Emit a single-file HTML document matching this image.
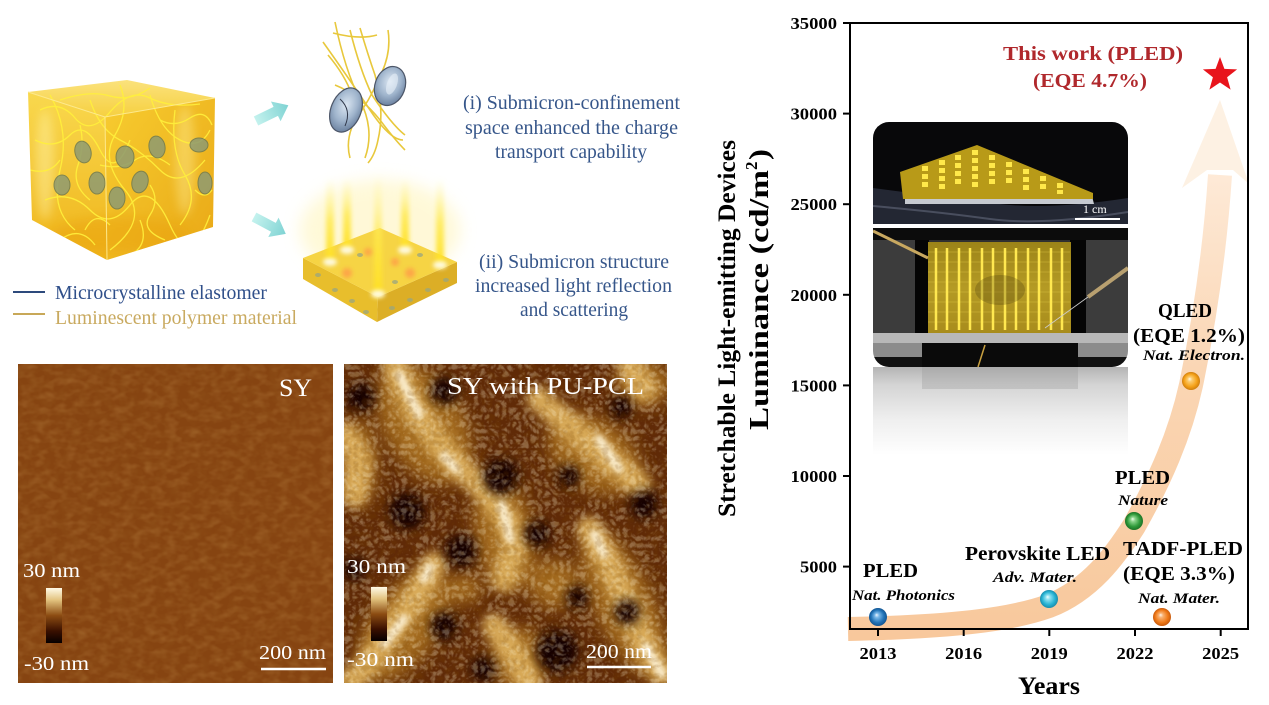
<!DOCTYPE html>
<html><head><meta charset="utf-8"><style>
html,body{margin:0;padding:0;background:#fff;}
svg{display:block}
text{font-family:"Liberation Serif","DejaVu Serif",serif;}
</style></head><body>
<svg width="1269" height="705" viewBox="0 0 1269 705" xmlns="http://www.w3.org/2000/svg">
<defs>
 <linearGradient id="gCubeL" x1="0" y1="0" x2="0" y2="1"><stop offset="0" stop-color="#f9d84e"/><stop offset="1" stop-color="#efb41a"/></linearGradient>
 <linearGradient id="gCubeR" x1="0" y1="0" x2="1" y2="1"><stop offset="0" stop-color="#f7cc30"/><stop offset="1" stop-color="#e9a816"/></linearGradient>
 <linearGradient id="gCubeT" x1="0" y1="0" x2="0" y2="1"><stop offset="0" stop-color="#fbe27c"/><stop offset="1" stop-color="#f6d040"/></linearGradient>
 <clipPath id="cubeClip"><polygon points="28,92 127,80 215,98 213,227 107,260 32,220"/></clipPath>
 <linearGradient id="gArrow" x1="0" y1="0" x2="1" y2="0"><stop offset="0" stop-color="#c4f2ee"/><stop offset="1" stop-color="#7fd3d3"/></linearGradient>
 <radialGradient id="gEll" cx="0.45" cy="0.4" r="0.6"><stop offset="0" stop-color="#dbe6f2"/><stop offset="0.6" stop-color="#9fb4cc"/><stop offset="1" stop-color="#6e84a2"/></radialGradient>
 <linearGradient id="gBeam" x1="0" y1="0" x2="0" y2="1"><stop offset="0" stop-color="#fff6a0" stop-opacity="0"/><stop offset="0.5" stop-color="#ffe94a" stop-opacity="0.8"/><stop offset="1" stop-color="#ffe020" stop-opacity="1"/></linearGradient>
 <filter id="b2" x="-50%" y="-50%" width="200%" height="200%"><feGaussianBlur stdDeviation="2"/></filter>
 <filter id="b3" x="-50%" y="-50%" width="200%" height="200%"><feGaussianBlur stdDeviation="3"/></filter>
 <filter id="b5" x="-50%" y="-50%" width="200%" height="200%"><feGaussianBlur stdDeviation="5"/></filter>
 <filter id="b8" x="-50%" y="-50%" width="200%" height="200%"><feGaussianBlur stdDeviation="8"/></filter>
 <filter id="noiseL" x="0" y="0" width="1" height="1"><feTurbulence type="fractalNoise" baseFrequency="0.09 0.14" numOctaves="2" seed="2"/><feColorMatrix type="matrix" values="0 0 0 0 0.66  0 0 0 0 0.37  0 0 0 0 0.11  1.6 0 0 0 -0.65"/></filter>
 <filter id="noiseL2" x="0" y="0" width="1" height="1"><feTurbulence type="fractalNoise" baseFrequency="0.1" numOctaves="2" seed="9"/><feColorMatrix type="matrix" values="0 0 0 0 0.38  0 0 0 0 0.17  0 0 0 0 0.03  1.6 0 0 0 -0.65"/></filter>
 <filter id="noiseR" x="0" y="0" width="1" height="1"><feTurbulence type="turbulence" baseFrequency="0.14" numOctaves="2" seed="5"/><feColorMatrix type="matrix" values="0 0 0 0 0.97  0 0 0 0 0.86  0 0 0 0 0.6  3 0 0 0 -0.55"/></filter>
 <filter id="noiseR2" x="0" y="0" width="1" height="1"><feTurbulence type="turbulence" baseFrequency="0.12" numOctaves="2" seed="11"/><feColorMatrix type="matrix" values="0 0 0 0 0.2  0 0 0 0 0.06  0 0 0 0 0.0  3 0 0 0 -0.5"/></filter>
 <linearGradient id="gCbar" x1="0" y1="0" x2="0" y2="1"><stop offset="0" stop-color="#fffbe8"/><stop offset="0.22" stop-color="#e2c27e"/><stop offset="0.5" stop-color="#8c4c12"/><stop offset="0.78" stop-color="#3a1000"/><stop offset="1" stop-color="#060000"/></linearGradient>
 <clipPath id="clipR"><rect x="0" y="0" width="323" height="319"/></clipPath>
 <linearGradient id="gBand" gradientUnits="userSpaceOnUse" x1="0" y1="640" x2="0" y2="100"><stop offset="0" stop-color="#f8c89c"/><stop offset="0.5" stop-color="#fad6b4"/><stop offset="1" stop-color="#fff1e4"/></linearGradient>
 <radialGradient id="ballBlue" cx="0.5" cy="0.5" r="0.5" fx="0.42" fy="0.38"><stop offset="0" stop-color="#eef6ff"/><stop offset="0.25" stop-color="#7ab8e8"/><stop offset="0.7" stop-color="#2274b8"/><stop offset="1" stop-color="#125592"/></radialGradient>
 <radialGradient id="ballCyan" cx="0.5" cy="0.5" r="0.5" fx="0.42" fy="0.38"><stop offset="0" stop-color="#f0ffff"/><stop offset="0.25" stop-color="#8ee0f0"/><stop offset="0.7" stop-color="#28b4d4"/><stop offset="1" stop-color="#1a8cac"/></radialGradient>
 <radialGradient id="ballGreen" cx="0.5" cy="0.5" r="0.5" fx="0.42" fy="0.38"><stop offset="0" stop-color="#f0fff0"/><stop offset="0.25" stop-color="#8cd48c"/><stop offset="0.7" stop-color="#2f9a3a"/><stop offset="1" stop-color="#1c7226"/></radialGradient>
 <radialGradient id="ballOrange" cx="0.5" cy="0.5" r="0.5" fx="0.42" fy="0.38"><stop offset="0" stop-color="#fff4e8"/><stop offset="0.25" stop-color="#f8b070"/><stop offset="0.7" stop-color="#f07a18"/><stop offset="1" stop-color="#c85a0c"/></radialGradient>
 <radialGradient id="ballAmber" cx="0.5" cy="0.5" r="0.5" fx="0.42" fy="0.38"><stop offset="0" stop-color="#fff8e8"/><stop offset="0.25" stop-color="#fccc70"/><stop offset="0.7" stop-color="#f5a21a"/><stop offset="1" stop-color="#d07e0c"/></radialGradient>
 <clipPath id="photoClip"><rect x="873" y="122" width="255" height="245" rx="16" ry="16"/></clipPath>
 <linearGradient id="gPanel" x1="0" y1="0" x2="0" y2="1"><stop offset="0" stop-color="#9c8418"/><stop offset="0.5" stop-color="#b49a24"/><stop offset="1" stop-color="#a88c1c"/></linearGradient>
 <linearGradient id="gRefl" x1="0" y1="0" x2="0" y2="1"><stop offset="0" stop-color="#b4b4b4"/><stop offset="0.2" stop-color="#d4d4d4"/><stop offset="0.6" stop-color="#efefef"/><stop offset="1" stop-color="#ffffff"/></linearGradient>
</defs>

<rect x="0" y="0" width="1269" height="705" fill="#fff"/>

<!-- ===== Cube ===== -->
<g>
 <polygon points="28,92 105,117 107,260 32,220" fill="url(#gCubeL)"/>
 <polygon points="105,117 215,98 213,227 107,260" fill="url(#gCubeR)"/>
 <polygon points="28,92 127,80 215,98 105,117" fill="url(#gCubeT)"/>
 <g clip-path="url(#cubeClip)">
  <ellipse cx="45" cy="165" rx="9" ry="55" fill="#fff6b0" opacity="0.45" filter="url(#b5)"/>
  <ellipse cx="185" cy="160" rx="10" ry="55" fill="#fff3a0" opacity="0.4" filter="url(#b5)"/>
  <ellipse cx="120" cy="235" rx="70" ry="18" fill="#e9a010" opacity="0.45" filter="url(#b5)"/>
  <g fill="none" stroke="#fff03c" stroke-width="1.3" opacity="0.9">
   <path d="M40,110 Q60,100 75,118 T110,112 T150,98 T200,104"/>
   <path d="M35,140 Q55,150 70,135 T100,150 T130,140"/>
   <path d="M50,95 Q70,130 60,170 T75,230"/>
   <path d="M90,100 Q100,130 120,140 T160,170 T205,160"/>
   <path d="M120,85 Q130,110 115,135 T125,190 T110,250"/>
   <path d="M150,95 Q160,130 180,140 T210,130"/>
   <path d="M45,200 Q70,190 90,210 T130,205 T170,225 T210,215"/>
   <path d="M60,240 Q80,225 95,245"/>
   <path d="M140,220 Q150,245 130,255"/>
   <path d="M175,110 Q170,150 185,175 T180,225"/>
   <path d="M100,165 Q120,170 135,160 T170,165"/>
   <path d="M30,170 Q50,175 60,160"/>
   <path d="M195,190 Q205,200 212,190"/>
   <path d="M80,125 Q85,145 78,165 T90,200"/>
   <path d="M150,185 Q160,200 150,215 T165,240"/>
   <path d="M110,225 Q95,210 85,230"/>
   <path d="M60,100 Q90,90 110,96 T150,88"/>
   <path d="M160,120 Q175,128 190,118 T212,125"/>
  </g>
  <g fill="#8e9a72" stroke="#6c7852" stroke-width="1" opacity="0.85">
   <ellipse cx="83" cy="152" rx="8" ry="11" transform="rotate(-15 83 152)"/>
   <ellipse cx="125" cy="157" rx="9" ry="11"/>
   <ellipse cx="157" cy="147" rx="8" ry="11" transform="rotate(-10 157 147)"/>
   <ellipse cx="199" cy="145" rx="9" ry="7"/>
   <ellipse cx="62" cy="185" rx="8" ry="10"/>
   <ellipse cx="97" cy="183" rx="8" ry="11"/>
   <ellipse cx="140" cy="182" rx="8" ry="11" transform="rotate(15 140 182)"/>
   <ellipse cx="117" cy="198" rx="8" ry="11"/>
   <ellipse cx="205" cy="183" rx="7" ry="11"/>
  </g>
 </g>
 <polyline points="28,92 105,117 215,98" fill="none" stroke="#fde98c" stroke-width="1"/>
 <line x1="105" y1="117" x2="107" y2="260" stroke="#fde98c" stroke-width="1"/>
</g>

<!-- legend -->
<line x1="13" y1="292" x2="45" y2="292" stroke="#2d4a7c" stroke-width="2"/>
<text x="55" y="299" font-size="19.5" fill="#2f4f8a" textLength="212" lengthAdjust="spacingAndGlyphs">Microcrystalline elastomer</text>
<line x1="13" y1="314" x2="45" y2="314" stroke="#c8a858" stroke-width="2"/>
<text x="55" y="324" font-size="19.5" fill="#c9aa60" textLength="242" lengthAdjust="spacingAndGlyphs">Luminescent polymer material</text>

<!-- cyan arrows -->
<g transform="translate(256,121) rotate(-26)"><path d="M0,-5 L22,-5 L22,-11 L36,0 L22,11 L22,5 L0,5 Z" fill="url(#gArrow)"/></g>
<g transform="translate(254,217) rotate(28)"><path d="M0,-5 L22,-5 L22,-11 L36,0 L22,11 L22,5 L0,5 Z" fill="url(#gArrow)"/></g>

<!-- fibers + ellipsoids -->
<g fill="none" stroke="#e8c83c" stroke-width="1.6">
 <path d="M323,42 Q350,80 370,110 T403,140"/>
 <path d="M335,22 Q345,70 360,100 Q375,130 365,158"/>
 <path d="M350,30 Q360,70 372,95 Q392,125 405,135"/>
 <path d="M360,28 Q368,55 375,75 Q385,110 378,140 Q375,155 368,163"/>
 <path d="M333,33 Q360,40 377,35"/>
 <path d="M388,30 Q392,55 378,80 Q370,100 355,120 Q345,140 350,158"/>
 <path d="M335,85 Q360,95 380,120 Q395,140 405,150"/>
 <path d="M328,55 Q345,75 352,95"/>
</g>
<ellipse cx="346" cy="110" rx="15" ry="23" transform="rotate(22 346 110)" fill="url(#gEll)" stroke="#4c5668" stroke-width="1.2"/>
<ellipse cx="390" cy="86" rx="15" ry="20" transform="rotate(20 390 86)" fill="url(#gEll)" stroke="#4c5668" stroke-width="1.2"/>
<ellipse cx="392" cy="84" rx="5" ry="11" transform="rotate(20 392 84)" fill="#e8f0f8" opacity="0.6"/>
<path d="M340,99 Q352,110 345,126" stroke="#30384a" stroke-width="1" fill="none"/>

<!-- glowing slab -->
<ellipse cx="380" cy="230" rx="80" ry="50" fill="#fff4b8" opacity="0.55" filter="url(#b8)"/>
<polygon points="303,258 378,297 377,322 303,279" fill="#e8be2c"/>
<polygon points="378,297 457,262 457,283 377,322" fill="#dcae26"/>
<polygon points="303,258 380,228 457,262 378,297" fill="#f6d444"/>
<g fill="#9aa680" opacity="0.75">
 <ellipse cx="318" cy="275" rx="3" ry="2"/><ellipse cx="335" cy="290" rx="3" ry="2"/><ellipse cx="352" cy="301" rx="3" ry="2"/><ellipse cx="366" cy="312" rx="3" ry="2"/>
 <ellipse cx="392" cy="308" rx="3" ry="2"/><ellipse cx="410" cy="300" rx="3" ry="2"/><ellipse cx="428" cy="290" rx="3" ry="2"/><ellipse cx="446" cy="280" rx="3" ry="2"/>
 <ellipse cx="360" cy="255" rx="3" ry="2"/><ellipse cx="420" cy="255" rx="3" ry="2"/><ellipse cx="395" cy="282" rx="3" ry="2"/>
</g>
<g filter="url(#b2)">
 <rect x="326" y="178" width="8" height="85" fill="url(#gBeam)"/>
 <rect x="343" y="178" width="8" height="72" fill="url(#gBeam)"/>
 <rect x="374" y="175" width="8" height="122" fill="url(#gBeam)"/>
 <rect x="401" y="178" width="8" height="72" fill="url(#gBeam)"/>
 <rect x="436" y="178" width="8" height="89" fill="url(#gBeam)"/>
</g>
<g fill="#ffffff" opacity="0.85" filter="url(#b2)">
 <ellipse cx="330" cy="262" rx="7" ry="4"/><ellipse cx="347" cy="250" rx="7" ry="4"/><ellipse cx="378" cy="294" rx="7" ry="4"/><ellipse cx="405" cy="250" rx="7" ry="4"/><ellipse cx="440" cy="265" rx="7" ry="4"/>
</g>
<g fill="#ff9a48" opacity="0.8" filter="url(#b2)">
 <circle cx="347" cy="273" r="5"/><circle cx="410" cy="273" r="5"/><circle cx="368" cy="252" r="4"/><circle cx="395" cy="262" r="4"/>
</g>

<!-- blue descriptive text -->
<g font-size="20" fill="#36568a">
 <text x="463" y="109" textLength="217" lengthAdjust="spacingAndGlyphs">(i) Submicron-confinement</text>
 <text x="465" y="134" textLength="213" lengthAdjust="spacingAndGlyphs">space enhanced the charge</text>
 <text x="495" y="158" textLength="152" lengthAdjust="spacingAndGlyphs">transport capability</text>
 <text x="479" y="268" textLength="190" lengthAdjust="spacingAndGlyphs">(ii) Submicron structure</text>
 <text x="475" y="292" textLength="197" lengthAdjust="spacingAndGlyphs">increased light reflection</text>
 <text x="520" y="316" textLength="108" lengthAdjust="spacingAndGlyphs">and scattering</text>
</g>

<!-- ===== Left AFM ===== -->
<rect x="18" y="364" width="315" height="319" fill="#864411"/>
<rect x="18" y="364" width="315" height="319" filter="url(#noiseL)" opacity="0.3"/>
<rect x="18" y="364" width="315" height="319" filter="url(#noiseL2)" opacity="0.25"/>
<text x="279" y="396" font-size="25" fill="#fff" textLength="33" lengthAdjust="spacingAndGlyphs">SY</text>
<text x="23" y="577" font-size="20" fill="#fff" textLength="57" lengthAdjust="spacingAndGlyphs">30 nm</text>
<rect x="46" y="588" width="16" height="55" fill="url(#gCbar)"/>
<text x="24" y="670" font-size="20" fill="#fff" textLength="65" lengthAdjust="spacingAndGlyphs">-30 nm</text>
<text x="259" y="659" font-size="20" fill="#fff" textLength="67" lengthAdjust="spacingAndGlyphs">200 nm</text>
<line x1="261" y1="669" x2="326" y2="669" stroke="#fff" stroke-width="2.5"/>

<!-- ===== Right AFM ===== -->
<g transform="translate(344,364)" clip-path="url(#clipR)">
 <rect x="0" y="0" width="323" height="319" fill="#602a07"/>
 <g fill="#a86f22" opacity="0.95" filter="url(#b8)">
  <ellipse cx="80" cy="60" rx="40" ry="66" transform="rotate(-30 80 60)"/>
  <ellipse cx="160" cy="170" rx="30" ry="58" transform="rotate(-10 160 170)"/>
  <ellipse cx="250" cy="90" rx="52" ry="34" transform="rotate(35 250 90)"/>
  <ellipse cx="280" cy="240" rx="30" ry="80" transform="rotate(-25 280 240)"/>
  <ellipse cx="60" cy="262" rx="34" ry="64" transform="rotate(35 60 262)"/>
  <ellipse cx="175" cy="295" rx="28" ry="32"/>
  <ellipse cx="15" cy="100" rx="18" ry="44"/>
  <ellipse cx="210" cy="220" rx="25" ry="25"/>
  <ellipse cx="300" cy="20" rx="28" ry="22"/>
  <ellipse cx="120" cy="225" rx="18" ry="15"/>
 </g>
 <g fill="none" stroke="#dcae5c" stroke-width="25" stroke-linecap="round" filter="url(#b5)" opacity="0.95">
  <path d="M50,0 L70,45 L95,80 L112,100"/>
  <path d="M112,100 L145,130 L165,160 L170,185 L160,215"/>
  <path d="M195,35 L235,70 L270,100 L295,120"/>
  <path d="M245,165 L265,200 L285,245 L300,280 L318,310"/>
  <path d="M90,200 L70,235 L45,270 L20,305 L5,318"/>
  <path d="M150,262 L170,290 L185,318"/>
  <path d="M0,70 L15,95 L10,130"/>
  <path d="M285,0 L300,25"/>
 </g>
 <g fill="none" stroke="#faeccc" stroke-width="9" stroke-linecap="round" filter="url(#b3)">
  <path d="M55,10 L75,50"/>
  <path d="M100,92 L112,105"/>
  <path d="M158,140 L166,175"/>
  <path d="M255,75 L275,105"/>
  <path d="M250,170 L260,190"/>
  <path d="M86,203 L80,215"/>
  <path d="M302,282 L318,310"/>
  <path d="M60,255 L40,280"/>
 </g>
 <g fill="#140300" filter="url(#b5)">
  <circle cx="157" cy="113" r="18"/><circle cx="63" cy="147" r="18"/><circle cx="117" cy="187" r="16"/>
  <circle cx="193" cy="170" r="13"/><circle cx="213" cy="287" r="21"/><circle cx="17" cy="33" r="14"/>
  <circle cx="100" cy="27" r="14"/><circle cx="300" cy="140" r="14"/><circle cx="283" cy="248" r="13"/>
  <circle cx="233" cy="233" r="11"/><circle cx="100" cy="262" r="14"/><circle cx="140" cy="305" r="12"/>
  <circle cx="10" cy="205" r="11"/><circle cx="277" cy="43" r="11"/><circle cx="225" cy="112" r="11"/>
 </g>
 <rect x="0" y="0" width="323" height="319" filter="url(#noiseR)" opacity="0.3"/>
 <rect x="0" y="0" width="323" height="319" filter="url(#noiseR2)" opacity="0.2"/>
</g>
<text x="447" y="394" font-size="24" fill="#fff" textLength="197" lengthAdjust="spacingAndGlyphs">SY with PU-PCL</text>
<text x="347" y="573" font-size="20" fill="#fff" textLength="59" lengthAdjust="spacingAndGlyphs">30 nm</text>
<rect x="371" y="587" width="16" height="54" fill="url(#gCbar)"/>
<text x="347" y="666" font-size="20" fill="#fff" textLength="67" lengthAdjust="spacingAndGlyphs">-30 nm</text>
<text x="586" y="658" font-size="20" fill="#fff" textLength="66" lengthAdjust="spacingAndGlyphs">200 nm</text>
<line x1="587" y1="667" x2="651" y2="667" stroke="#fff" stroke-width="2.5"/>

<!-- ===== Chart ===== -->
<path d="M848,629 C950,627 1010,620 1049,606 C1090,590 1115,556 1134,526 C1160,480 1180,435 1191,385 C1205,318 1215,250 1220,175" fill="none" stroke="url(#gBand)" stroke-width="24"/>
<polygon points="1220,100 1249,184 1233,170 1207,170 1182,188" fill="#fdefe0" opacity="0.9"/>

<!-- photo -->
<rect x="873" y="367" width="255" height="88" fill="url(#gRefl)"/>
<rect x="922" y="367" width="156" height="22" fill="#9c9c9c" opacity="0.35"/>
<g clip-path="url(#photoClip)">
 <rect x="873" y="122" width="255" height="103" fill="#08080a"/>
 <path d="M873,188 Q950,198 1000,204 T1128,198 L1128,225 L873,225 Z" fill="#232733"/>
 <path d="M873,206 Q940,212 990,219 T1128,212" stroke="#5a6070" stroke-width="2" fill="none" opacity="0.7"/>
 <polygon points="905,190 985,178 1092,196 1094,204 905,204" fill="#c6cad0"/>
 <polygon points="900,172 977,145 1093,193 1093,199 903,199" fill="#b89a18"/>
 <g fill="#ffe84a">
  <rect x="922" y="166" width="6" height="5"/><rect x="922" y="174" width="6" height="5"/><rect x="922" y="182" width="6" height="5"/>
  <rect x="939" y="160" width="6" height="5"/><rect x="939" y="168" width="6" height="5"/><rect x="939" y="176" width="6" height="5"/><rect x="939" y="184" width="6" height="5"/>
  <rect x="955" y="155" width="6" height="5"/><rect x="955" y="163" width="6" height="5"/><rect x="955" y="171" width="6" height="5"/><rect x="955" y="179" width="6" height="5"/>
  <rect x="972" y="150" width="6" height="5"/><rect x="972" y="158" width="6" height="5"/><rect x="972" y="166" width="6" height="5"/><rect x="972" y="174" width="6" height="5"/><rect x="972" y="182" width="6" height="5"/>
  <rect x="989" y="155" width="6" height="5"/><rect x="989" y="163" width="6" height="5"/><rect x="989" y="171" width="6" height="5"/><rect x="989" y="179" width="6" height="5"/>
  <rect x="1006" y="162" width="6" height="5"/><rect x="1006" y="170" width="6" height="5"/><rect x="1006" y="178" width="6" height="5"/>
  <rect x="1023" y="169" width="6" height="5"/><rect x="1023" y="177" width="6" height="5"/><rect x="1023" y="185" width="6" height="5"/>
  <rect x="1040" y="176" width="6" height="5"/><rect x="1040" y="184" width="6" height="5"/>
  <rect x="1057" y="183" width="6" height="5"/><rect x="1057" y="190" width="6" height="4"/>
 </g>
 <text x="1083" y="213" font-size="12" fill="#fff">1 cm</text>
 <line x1="1075" y1="219" x2="1120" y2="219" stroke="#fff" stroke-width="2"/>
 <rect x="873" y="224" width="255" height="4" fill="#fff"/>
 <rect x="873" y="228" width="255" height="105" fill="#303030"/>
 <rect x="873" y="228" width="255" height="12" fill="#0c0c0c"/>
 <rect x="873" y="240" width="45" height="93" fill="#3c3c3c"/>
 <rect x="1085" y="240" width="43" height="93" fill="#3c3c3c"/>
 <rect x="915" y="240" width="14" height="95" fill="#050505"/>
 <rect x="1070" y="240" width="16" height="95" fill="#050505"/>
 <rect x="928" y="242" width="143" height="92" fill="url(#gPanel)"/>
 <g stroke="#d8c040" stroke-width="1" opacity="0.45">
  <line x1="928" y1="252" x2="1070" y2="252"/><line x1="928" y1="262" x2="1070" y2="262"/><line x1="928" y1="272" x2="1070" y2="272"/>
  <line x1="928" y1="282" x2="1070" y2="282"/><line x1="928" y1="292" x2="1070" y2="292"/><line x1="928" y1="302" x2="1070" y2="302"/>
  <line x1="928" y1="312" x2="1070" y2="312"/><line x1="928" y1="322" x2="1070" y2="322"/>
 </g>
 <g stroke="#ffe850" stroke-width="2.5">
  <line x1="936" y1="248" x2="936" y2="330"/><line x1="947" y1="248" x2="947" y2="330"/><line x1="959" y1="248" x2="959" y2="330"/>
  <line x1="970" y1="248" x2="970" y2="330"/><line x1="982" y1="248" x2="982" y2="330"/><line x1="993" y1="248" x2="993" y2="330"/>
  <line x1="1005" y1="248" x2="1005" y2="330"/><line x1="1016" y1="248" x2="1016" y2="330"/><line x1="1028" y1="248" x2="1028" y2="330"/>
  <line x1="1039" y1="248" x2="1039" y2="330"/><line x1="1051" y1="248" x2="1051" y2="330"/><line x1="1062" y1="248" x2="1062" y2="330"/>
 </g>
 <ellipse cx="1000" cy="290" rx="25" ry="15" fill="#3a3008" opacity="0.25"/>
 <line x1="873" y1="231" x2="928" y2="258" stroke="#c8a860" stroke-width="3"/>
 <line x1="1128" y1="268" x2="1088" y2="297" stroke="#b8a070" stroke-width="4"/>
 <line x1="1088" y1="297" x2="1045" y2="328" stroke="#cccccc" stroke-width="0.8"/>
 <rect x="873" y="333" width="255" height="10" fill="#b8b8b8"/>
 <rect x="873" y="343" width="255" height="14" fill="#8c8c8c"/>
 <rect x="873" y="357" width="255" height="10" fill="#111"/>
 <rect x="922" y="343" width="156" height="24" fill="#0a0a0a"/>
 <line x1="985" y1="345" x2="978" y2="367" stroke="#c8a040" stroke-width="1.5"/>
</g>

<!-- axes -->
<rect x="850" y="23" width="398" height="606" fill="none" stroke="#000" stroke-width="2"/>
<g stroke="#000" stroke-width="2">
 <line x1="843" y1="23" x2="850" y2="23"/><line x1="843" y1="113.6" x2="850" y2="113.6"/><line x1="843" y1="204.2" x2="850" y2="204.2"/>
 <line x1="843" y1="294.8" x2="850" y2="294.8"/><line x1="843" y1="385.4" x2="850" y2="385.4"/><line x1="843" y1="476" x2="850" y2="476"/>
 <line x1="843" y1="566.6" x2="850" y2="566.6"/>
 <line x1="878" y1="629" x2="878" y2="636"/><line x1="963.7" y1="629" x2="963.7" y2="636"/><line x1="1049.3" y1="629" x2="1049.3" y2="636"/>
 <line x1="1135" y1="629" x2="1135" y2="636"/><line x1="1220.7" y1="629" x2="1220.7" y2="636"/>
</g>
<g font-size="17" font-weight="bold" fill="#000">
 <text x="790.5" y="29" textLength="46.5" lengthAdjust="spacingAndGlyphs">35000</text>
 <text x="790.5" y="119.6" textLength="46.5" lengthAdjust="spacingAndGlyphs">30000</text>
 <text x="790.5" y="210.2" textLength="46.5" lengthAdjust="spacingAndGlyphs">25000</text>
 <text x="790.5" y="300.8" textLength="46.5" lengthAdjust="spacingAndGlyphs">20000</text>
 <text x="790.5" y="391.4" textLength="46.5" lengthAdjust="spacingAndGlyphs">15000</text>
 <text x="790.5" y="482" textLength="46.5" lengthAdjust="spacingAndGlyphs">10000</text>
 <text x="800" y="572.6" textLength="37" lengthAdjust="spacingAndGlyphs">5000</text>
 <text x="859.5" y="659" textLength="37" lengthAdjust="spacingAndGlyphs">2013</text>
 <text x="945.2" y="659" textLength="37" lengthAdjust="spacingAndGlyphs">2016</text>
 <text x="1030.8" y="659" textLength="37" lengthAdjust="spacingAndGlyphs">2019</text>
 <text x="1116.5" y="659" textLength="37" lengthAdjust="spacingAndGlyphs">2022</text>
 <text x="1202.2" y="659" textLength="37" lengthAdjust="spacingAndGlyphs">2025</text>
</g>
<text x="1018" y="694" font-size="25" font-weight="bold" textLength="62" lengthAdjust="spacingAndGlyphs">Years</text>
<text transform="translate(735,0) rotate(-90)" x="-517" y="0" font-size="25" font-weight="bold" textLength="377" lengthAdjust="spacingAndGlyphs">Stretchable Light-emitting Devices</text>
<g transform="translate(768,0) rotate(-90)" font-size="27" font-weight="bold">
 <text x="-430" y="0" textLength="260" lengthAdjust="spacingAndGlyphs">Luminance (cd/m</text>
 <text x="-170" y="-11" font-size="17">2</text>
 <text x="-160" y="0" textLength="11" lengthAdjust="spacingAndGlyphs">)</text>
</g>

<!-- balls -->
<circle cx="878" cy="617" r="9" fill="url(#ballBlue)"/>
<circle cx="1049" cy="599" r="9" fill="url(#ballCyan)"/>
<circle cx="1134" cy="521" r="9" fill="url(#ballGreen)"/>
<circle cx="1162" cy="617" r="9" fill="url(#ballOrange)"/>
<circle cx="1191" cy="381" r="9" fill="url(#ballAmber)"/>
<polygon points="1220,57 1224.4,68.9 1237.1,69.4 1227.1,77.3 1230.6,89.6 1220,82.5 1209.4,89.6 1212.9,77.3 1202.9,69.4 1215.6,68.9" fill="#e8141c"/>

<!-- labels -->
<g font-size="20" font-weight="bold" fill="#000">
 <text x="863" y="577" textLength="55" lengthAdjust="spacingAndGlyphs">PLED</text>
 <text x="965" y="560" textLength="145" lengthAdjust="spacingAndGlyphs">Perovskite LED</text>
 <text x="1123" y="555" textLength="120" lengthAdjust="spacingAndGlyphs">TADF-PLED</text>
 <text x="1123" y="580" textLength="112" lengthAdjust="spacingAndGlyphs">(EQE 3.3%)</text>
 <text x="1115" y="484" textLength="55" lengthAdjust="spacingAndGlyphs">PLED</text>
 <text x="1158" y="317" textLength="54" lengthAdjust="spacingAndGlyphs">QLED</text>
 <text x="1133" y="342" textLength="112" lengthAdjust="spacingAndGlyphs">(EQE 1.2%)</text>
</g>
<g font-size="15" font-weight="bold" font-style="italic" fill="#000">
 <text x="852" y="600" textLength="103" lengthAdjust="spacingAndGlyphs">Nat. Photonics</text>
 <text x="993" y="582" textLength="84" lengthAdjust="spacingAndGlyphs">Adv. Mater.</text>
 <text x="1138" y="603" textLength="82" lengthAdjust="spacingAndGlyphs">Nat. Mater.</text>
 <text x="1118" y="505" textLength="50" lengthAdjust="spacingAndGlyphs">Nature</text>
 <text x="1143" y="360" textLength="102" lengthAdjust="spacingAndGlyphs">Nat. Electron.</text>
</g>
<g font-size="20" font-weight="bold" fill="#b0282c">
 <text x="1003" y="60" textLength="180" lengthAdjust="spacingAndGlyphs">This work (PLED)</text>
 <text x="1033" y="87" textLength="114" lengthAdjust="spacingAndGlyphs">(EQE 4.7%)</text>
</g>
</svg>
</body></html>
